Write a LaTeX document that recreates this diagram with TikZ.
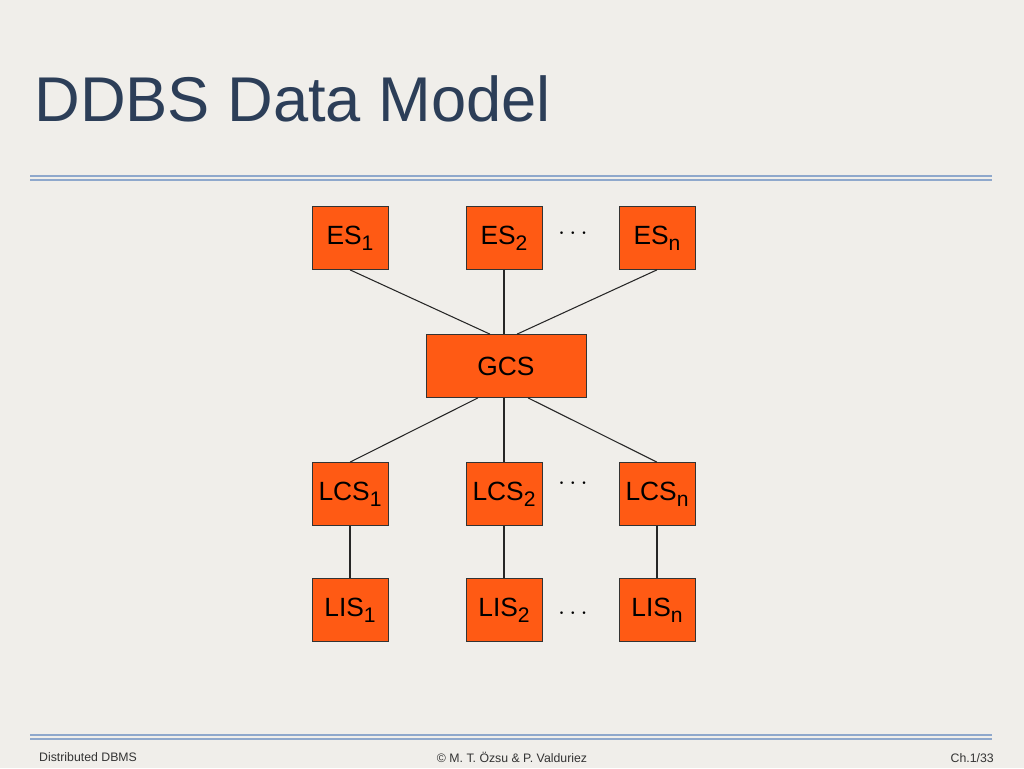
\documentclass[tikz,border=0pt]{standalone}
\usepackage{fontspec}
\setmainfont{Liberation Sans}
\usepackage{tikz}
\usetikzlibrary{calc,positioning}
\definecolor{bgpaper}{HTML}{F0EEEA}
\definecolor{titleblue}{HTML}{2C3E58}
\definecolor{rulebl}{HTML}{8FA8CC}
\definecolor{boxorange}{HTML}{FF5A14}
\newcommand{\sub}[1]{\raisebox{-0.45ex}{\fontsize{12}{12}\selectfont #1}}
\tikzset{
  schema/.style={draw=black!80,fill=boxorange,minimum width=1.52cm,minimum height=1.26cm,inner sep=0pt,font=\fontsize{15}{15}\selectfont},
  link/.style={black!85,line width=0.6pt}
}
\begin{document}
\begin{tikzpicture}[x=0.02cm,y=-0.02cm]
\fill[bgpaper] (0,0) rectangle (1024,768);
\useasboundingbox (0,0) rectangle (1024,768);
\node[anchor=west,text=titleblue,font=\fontsize{36}{36}\selectfont,inner sep=0pt] (title) at (34,99) {DDBS Data Model};
\foreach \y in {176,180,735,739}
  \draw[rulebl,line width=0.9pt] (30,\y) -- (992,\y);
% schemas
\node[schema] (es1) at (350,238) {ES\sub{1}};
\node[schema] (es2) at (504,238) {ES\sub{2}};
\node[schema] (esn) at (657,238) {ES\sub{n}};
\node[schema,minimum width=3.2cm] (gcs) at (506,366) {GCS};
\node[schema] (lcs1) at (350,494) {LCS\sub{1}};
\node[schema] (lcs2) at (504,494) {LCS\sub{2}};
\node[schema] (lcsn) at (657,494) {LCS\sub{n}};
\node[schema] (lis1) at (350,610) {LIS\sub{1}};
\node[schema] (lis2) at (504,610) {LIS\sub{2}};
\node[schema] (lisn) at (657,610) {LIS\sub{n}};
\node[font=\Large] (d1) at (573,234) {$\cdots$};
\node[font=\Large] (d2) at (573,484) {$\cdots$};
\node[font=\Large] (d3) at (573,614) {$\cdots$};
% connectors
\draw[link] (es1.south) -- ($(gcs.north)+(-16,0)$);
\draw[link] (es2.south) -- (es2.south |- gcs.north);
\draw[link] (esn.south) -- ($(gcs.north)+(11,0)$);
\draw[link] ($(gcs.south)+(-28,0)$) -- (lcs1.north);
\draw[link] (lcs2.north |- gcs.south) -- (lcs2.north);
\draw[link] ($(gcs.south)+(22,0)$) -- (lcsn.north);
\foreach \a/\b in {lcs1/lis1,lcs2/lis2,lcsn/lisn}
  \draw[link] (\a.south) -- (\b.north);
% footer
\node[anchor=west,font=\fontsize{7}{7}\selectfont,text=black!80] (f1) at (33,757) {Distributed DBMS};
\node[font=\fontsize{7}{7}\selectfont,text=black!80] (f2) at (512,757) {© M. T. Özsu \& P. Valduriez};
\node[anchor=east,font=\fontsize{7}{7}\selectfont,text=black!80] (f3) at (1000,758) {Ch.1/33};
\end{tikzpicture}
\end{document}
